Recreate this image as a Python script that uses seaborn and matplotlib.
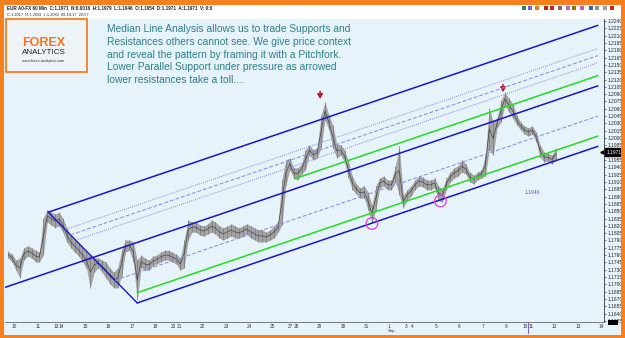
import numpy as np
import pandas as pd
import matplotlib
matplotlib.use('Agg')
import matplotlib.pyplot as plt
import seaborn as sns
from matplotlib.patches import Rectangle

W, H = 625, 338

# EUR/USD 60 min, sampled every 4 trading hours (hours counted from 10 Aug 00:00, weekend gap removed)
hours = np.arange(-4, 557, 4)
high = [1.1768, 1.1762, 1.1750, 1.1754, 1.1775, 1.1779, 1.1775, 1.1770, 1.1766, 1.1836,
        1.1853, 1.1848, 1.1844, 1.1848, 1.1836, 1.1816, 1.1799, 1.1791, 1.1783, 1.1775,
        1.1766, 1.1758, 1.1754, 1.1754, 1.1750, 1.1746, 1.1734, 1.1725, 1.1734, 1.1770,
        1.1791, 1.1791, 1.1787, 1.1750, 1.1760, 1.1754, 1.1750, 1.1758, 1.1760, 1.1766,
        1.1770, 1.1770, 1.1766, 1.1762, 1.1754, 1.1791, 1.1832, 1.1828, 1.1828, 1.1822,
        1.1820, 1.1824, 1.1832, 1.1828, 1.1820, 1.1816, 1.1820, 1.1824, 1.1820, 1.1816,
        1.1820, 1.1824, 1.1820, 1.1816, 1.1812, 1.1812, 1.1807, 1.1812, 1.1820, 1.1828,
        1.1914, 1.1955, 1.1959, 1.1939, 1.1939, 1.1947, 1.1976, 1.1986, 1.1976, 1.1980,
        1.2047, 1.2074, 1.2047, 1.2027, 1.1988, 1.1986, 1.1976, 1.1951, 1.1922, 1.1906,
        1.1898, 1.1902, 1.1889, 1.1863, 1.1902, 1.1918, 1.1922, 1.1914, 1.1914, 1.1943,
        1.1984, 1.1883, 1.1894, 1.1902, 1.1914, 1.1922, 1.1920, 1.1914, 1.1914, 1.1918,
        1.1902, 1.1894, 1.1918, 1.1930, 1.1939, 1.1943, 1.1955, 1.1947, 1.1930, 1.1924,
        1.1930, 1.1935, 1.1965, 1.2062, 1.2033, 1.2041, 1.2078, 1.2094, 1.2082, 1.2070,
        1.2047, 1.2033, 1.2025, 1.2021, 1.2025, 1.2012, 1.1986, 1.1971, 1.1969, 1.1965,
        1.1980]
low = [1.1754, 1.1746, 1.1729, 1.1713, 1.1750, 1.1758, 1.1754, 1.1746, 1.1746, 1.1760,
       1.1828, 1.1822, 1.1816, 1.1820, 1.1807, 1.1787, 1.1775, 1.1766, 1.1758, 1.1746,
       1.1734, 1.1693, 1.1725, 1.1734, 1.1725, 1.1713, 1.1701, 1.1693, 1.1693, 1.1717,
       1.1766, 1.1770, 1.1746, 1.1668, 1.1734, 1.1729, 1.1729, 1.1738, 1.1742, 1.1746,
       1.1750, 1.1750, 1.1746, 1.1742, 1.1729, 1.1734, 1.1791, 1.1807, 1.1807, 1.1801,
       1.1799, 1.1803, 1.1807, 1.1803, 1.1795, 1.1791, 1.1795, 1.1799, 1.1795, 1.1795,
       1.1799, 1.1803, 1.1795, 1.1791, 1.1787, 1.1787, 1.1787, 1.1791, 1.1795, 1.1807,
       1.1822, 1.1904, 1.1935, 1.1918, 1.1914, 1.1926, 1.1935, 1.1965, 1.1955, 1.1959,
       1.1980, 1.2037, 1.2017, 1.1980, 1.1959, 1.1965, 1.1951, 1.1918, 1.1894, 1.1885,
       1.1877, 1.1877, 1.1853, 1.1826, 1.1853, 1.1898, 1.1902, 1.1894, 1.1894, 1.1910,
       1.1883, 1.1857, 1.1873, 1.1881, 1.1894, 1.1902, 1.1900, 1.1894, 1.1894, 1.1898,
       1.1873, 1.1869, 1.1894, 1.1910, 1.1918, 1.1922, 1.1930, 1.1926, 1.1910, 1.1906,
       1.1914, 1.1918, 1.1922, 1.1976, 1.1965, 1.2021, 1.2033, 1.2068, 1.2053, 1.2041,
       1.2027, 1.2017, 1.2008, 1.2004, 1.2008, 1.1992, 1.1961, 1.1951, 1.1953, 1.1947,
       1.1955]

# pitchfork pivots (trading hour, price)
pivot_0 = (-7, 1.1694)
pivot_a = (37, 1.1848)
pivot_b = (128, 1.1662)
fib_dotted = [0.191, 0.309]
fib_dashed = [0.25, 0.75]
green_shift = 0.0021
green_upper_start = 289
t_end = 599

circles = [(368, 1.1825), (438, 1.1871)]
arrow_tips = [(315, 1.2080), (502, 1.2094)]
last_price = 1.1971
low_label = '1.1946'
low_label_at = (532, 1.1889)
now_marker = 528

price_ticks = np.round(np.arange(1.1625, 1.22401, 0.0015), 4)

cal = pd.date_range('2017-08-10', '2017-09-14')
cal = cal[cal.dayofweek != 5]
sess_len = np.where(cal.dayofweek == 4, 18, np.where(cal.dayofweek == 6, 6, 24))
tick_pos = np.concatenate([[0], np.cumsum(sess_len)[:-1]])
tick_lab = [str(d.day) for d in cal]

header1 = 'EUR A0-FX 60 Min  C:1.1971  N:0.0016  H:1.1979  L:1.1946  O:1.1954  D:1.1971  A:1.1971  V: 0:0'
header2 = 'C:1.2017  H:1.2019  L:1.2083  09-10-17  20:57'
note = ['Median Line Analysis allows us to trade Supports and',
        'Resistances others cannot see. We give price context',
        'and reveal the pattern by framing it with a Pitchfork.',
        'Lower Parallel Support under pressure as arrowed',
        'lower resistances take a toll....']

sns.set_style('white')
plt.rcParams['font.family'] = ['Liberation Sans', 'DejaVu Sans']

bg = '#E6F3FB'
orange = '#F77F1E'
fig = plt.figure(figsize=(W / 100, H / 100), dpi=100, facecolor=bg)


def fx(x):
    return x / W


def fy(y):
    return 1 - y / H


def rect(x0, y0, x1, y1, **kw):
    r = Rectangle((fx(x0), fy(y1)), (x1 - x0) / W, (y1 - y0) / H, transform=fig.transFigure, **kw)
    fig.add_artist(r)
    return r


ax = fig.add_axes([fx(5), fy(322), (604 - 5) / W, (322 - 19) / H])
ax.set_facecolor(bg)
ax.set_xlim(-7.2, 605.3)
ax.set_ylim(1.16229, 1.22441)

# price bars
ax.fill_between(hours, low, high, color='#a4a4a4', lw=0, zorder=2)
ax.vlines(hours, low, high, color='#7a7a7a', lw=0.5, zorder=2)
mid = (np.array(high) + np.array(low)) / 2
sns.lineplot(x=hours, y=mid, ax=ax, color='#3c3c3c', lw=0.45, estimator=None, sort=False, zorder=2)

# pitchfork
mid_t = (pivot_a[0] + pivot_b[0]) / 2
mid_p = (pivot_a[1] + pivot_b[1]) / 2
slope = (mid_p - pivot_0[1]) / (mid_t - pivot_0[0])


def ray(t0, p0, **kw):
    sns.lineplot(x=[t0, t_end], y=[p0, p0 + slope * (t_end - t0)], ax=ax,
                 estimator=None, sort=False, zorder=4, **kw)


blue = '#1616CC'
light = '#8585EE'
green = '#22DD22'
ray(*pivot_0, color=blue, lw=1.1)
ray(*pivot_a, color=blue, lw=1.1)
ray(*pivot_b, color=blue, lw=1.1)
sns.lineplot(x=[pivot_a[0], pivot_b[0]], y=[pivot_a[1], pivot_b[1]], ax=ax, color=blue, lw=1.0,
             estimator=None, sort=False, zorder=4)
for f in fib_dotted:
    ray(pivot_a[0] + f * (pivot_b[0] - pivot_a[0]), pivot_a[1] + f * (pivot_b[1] - pivot_a[1]),
        color=light, lw=0.7, linestyle=(0, (1, 1.2)))
for f in fib_dashed:
    ray(pivot_a[0] + f * (pivot_b[0] - pivot_a[0]), pivot_a[1] + f * (pivot_b[1] - pivot_a[1]),
        color=light, lw=0.7, linestyle=(0, (4, 2)))
ray(green_upper_start, pivot_0[1] + slope * (green_upper_start - pivot_0[0]) + green_shift, color=green, lw=1.1)
ray(pivot_b[0], pivot_b[1] + green_shift, color=green, lw=1.1)

# marks
ax.scatter([c[0] for c in circles], [c[1] for c in circles], s=70, facecolors='none',
           edgecolors='#E23CE2', linewidths=0.9, zorder=5)
for t, p in arrow_tips:
    ax.annotate('', xy=(t, p), xytext=(t, p + 0.0016),
                arrowprops=dict(arrowstyle='-|>,head_width=0.16,head_length=0.28', color='#B82025',
                                lw=1.1, shrinkA=0, shrinkB=0))
ax.text(low_label_at[0], low_label_at[1], low_label, fontsize=3.6, color='#7050B0', ha='center', va='center')

# axes
for s in ['top', 'left']:
    ax.spines[s].set_visible(False)
ax.spines['right'].set_color('#333333')
ax.spines['right'].set_linewidth(0.6)
ax.spines['bottom'].set_color('#666666')
ax.spines['bottom'].set_linewidth(0.6)
ax.yaxis.tick_right()
ax.set_yticks(price_ticks)
ax.set_yticklabels([f'{v:.4f}' for v in price_ticks])
ax.tick_params(axis='y', right=True, left=False, length=1.5, width=0.4, pad=1.2, labelsize=3.5,
               colors='#222222')
ax.set_xticks(tick_pos)
ax.set_xticklabels(tick_lab)
for lab in ax.get_xticklabels():
    lab.set_ha('left')
ax.tick_params(axis='x', length=1.5, width=0.4, pad=0.2, labelsize=3.4, colors='#333333')
ax.set_xlabel('')
ax.set_ylabel('')
ax.text(tick_pos[list(cal.day).index(1)], -0.031, 'Sep', transform=ax.get_xaxis_transform(),
        fontsize=3.2, color='#333333', ha='left', va='center')
ax.plot([now_marker, now_marker], [0, -0.036], transform=ax.get_xaxis_transform(), color='#9060C0',
        lw=0.8, clip_on=False)

# last price box
ax.text(1.004, last_price, f'{last_price:.4f}', transform=ax.get_yaxis_transform(), fontsize=3.5,
        color='white', va='center', ha='left', clip_on=False,
        bbox=dict(boxstyle='square,pad=0.3', fc='black', ec='black'))
ax.plot([0.997], [last_price], marker='<', ms=2.5, color='black', transform=ax.get_yaxis_transform(),
        clip_on=False)

# frame, header, logo
rect(0, 0, W, 5, color=orange, lw=0)
rect(0, 0, 4, H, color=orange, lw=0)
rect(621, 0, W, H, color=orange, lw=0)
rect(0, 334.5, W, H, color=orange, lw=0)
rect(4, 5, 621, 18.5, color='white', lw=0)
rect(608, 320, 618, 325, color='black', lw=0)

renderer = fig.canvas.get_renderer()


def fit_text(x, y, s, width, size, **kw):
    t = fig.text(fx(x), fy(y), s, fontsize=size, **kw)
    w = t.get_window_extent(renderer).width
    t.set_fontsize(size * width / w)
    return t


fit_text(7, 8.5, header1, 206, 4, fontweight='bold', color='#222222', va='center')
fit_text(7, 15, header2, 80, 4, color='#222222', va='center')

icon_x = [524, 530, 537, 546, 552, 560, 568, 574, 582, 591, 597, 605, 612]
icon_c = ['#2E8B57', '#6A6AD0', '#E08020', '#C02020', '#D02020', '#707070', '#B070D0',
          '#8a7a00', '#C060C0', '#3060C0', '#909090', '#a0a0a0', '#D02020']
for x, c in zip(icon_x, icon_c):
    fig.add_artist(plt.Line2D([fx(x)], [fy(8)], transform=fig.transFigure, lw=0, marker='s', ms=2.8,
                              color=c, mew=0))

rect(5.5, 18.5, 86.5, 72, facecolor='#EEF3F8', edgecolor=orange, lw=1.3)
fit_text(44, 42.5, 'FOREX', 43, 9, fontweight='bold', color='#F47320', ha='center', va='center')
fit_text(44, 52, 'ANALYTICS', 44, 6, color='#222222', ha='center', va='center')
fit_text(43, 61, 'www.forex-analytics.com', 42, 3, color='#333333', ha='center', va='center')

t0 = fit_text(107, 29.5, note[0], 245, 8, color='#317F8E', va='center')
fs = t0.get_fontsize()
for i, line in enumerate(note[1:], start=1):
    fig.text(fx(107), fy(29.5 + 12.6 * i), line, fontsize=fs, color='#317F8E', va='center')

fig.savefig('out.png', dpi=100, facecolor=fig.get_facecolor())
